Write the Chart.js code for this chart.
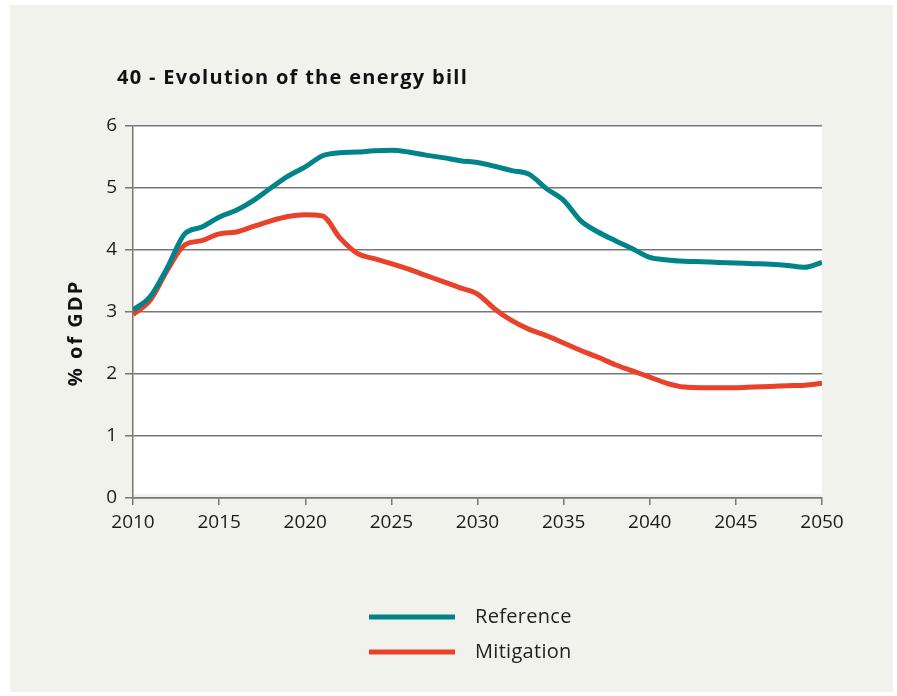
<!DOCTYPE html>
<html>
<head>
<meta charset="utf-8">
<title>Evolution of the energy bill</title>
<script src="https://cdn.jsdelivr.net/npm/chart.js@4.4.1/dist/chart.umd.min.js"></script>
<style>
  html, body { margin: 0; padding: 0; background: #ffffff; }
  #wrap { width: 897px; height: 696px; position: relative; }
</style>
</head>
<body>
<div id="wrap"><canvas id="bill"></canvas></div>
<script>
const TITLE = "40 - Evolution of the energy bill";
const Y_TITLE = "% of GDP";

const years = [];
for (let y = 2010; y <= 2050; y++) years.push(y);

// energy bill, % of GDP
const reference = [
    3.03, 3.25, 3.72, 4.26, 4.37, 4.53, 4.64, 4.80, 5.00, 5.19,
    5.34, 5.52, 5.57, 5.58, 5.60, 5.61, 5.58, 5.53, 5.49, 5.44,
    5.41, 5.35, 5.28, 5.22, 4.99, 4.80, 4.47, 4.29, 4.15, 4.02,
    3.88, 3.84, 3.82, 3.81, 3.80, 3.79, 3.78, 3.77, 3.75, 3.72,
    3.80,
];
const mitigation = [
    2.96, 3.19, 3.68, 4.08, 4.15, 4.26, 4.29, 4.38, 4.47, 4.54,
    4.57, 4.55, 4.20, 3.95, 3.86, 3.78, 3.69, 3.59, 3.49, 3.39,
    3.29, 3.05, 2.86, 2.72, 2.62, 2.50, 2.38, 2.27, 2.15, 2.05,
    1.95, 1.85, 1.79, 1.78, 1.78, 1.78, 1.79, 1.80, 1.81, 1.82,
    1.85,
];

const xTicks = [2010, 2015, 2020, 2025, 2030, 2035, 2040, 2045, 2050];
const yTicks = [0, 1, 2, 3, 4, 5, 6];

const SERIES = [
    { label: "Reference",  values: reference,  color: "#008489" },
    { label: "Mitigation", values: mitigation, color: "#e8432a" },
];

const FONT = "'Open Sans', 'DejaVu Sans', sans-serif";
const PANEL = "#f2f2ed";
const AXIS = "#777777";

// Panel, white plot box, heading, axis title and the stacked legend.
const decor = {
    id: "decor",
    beforeDraw(chart) {
        const { ctx, chartArea: a } = chart;
        ctx.save();
        ctx.fillStyle = "#ffffff";
        ctx.fillRect(0, 0, chart.width, chart.height);
        ctx.fillStyle = PANEL;
        ctx.fillRect(10, 5, 883, 687);
        ctx.fillStyle = "#ffffff";
        ctx.fillRect(a.left, a.top, a.right - a.left, a.bottom - a.top - 4);
        ctx.restore();
    },
    afterDraw(chart) {
        const { ctx, chartArea: a } = chart;
        ctx.save();
        ctx.fillStyle = "#111111";
        ctx.textBaseline = "alphabetic";
        ctx.textAlign = "left";
        ctx.font = "bold 20px " + FONT;
        ctx.letterSpacing = "1.3px";
        ctx.fillText(TITLE, 117, 84);

        ctx.translate(76, 333);
        ctx.rotate(-Math.PI / 2);
        ctx.textAlign = "center";
        ctx.textBaseline = "middle";
        ctx.font = "bold 20px " + FONT;
        ctx.letterSpacing = "2px";
        ctx.fillText(Y_TITLE, 0, 0);
        ctx.setTransform(1, 0, 0, 1, 0, 0);

        ctx.font = "20px " + FONT;
        ctx.letterSpacing = "0.3px";
        ctx.textAlign = "left";
        ctx.textBaseline = "middle";
        chart.data.datasets.forEach((ds, i) => {
            const y = 617 + i * 35;
            ctx.strokeStyle = ds.borderColor;
            ctx.lineWidth = 5;
            ctx.beginPath();
            ctx.moveTo(369, y);
            ctx.lineTo(455, y);
            ctx.stroke();
            ctx.fillStyle = "#222222";
            ctx.fillText(ds.label, 475, y);
        });
        ctx.restore();
    },
};

new Chart(document.getElementById("bill"), {
    type: "line",
    data: {
        labels: years,
        datasets: SERIES.map(s => ({
            label: s.label,
            data: years.map((yr, i) => ({ x: yr, y: s.values[i] })),
            borderColor: s.color,
            backgroundColor: s.color,
            borderWidth: 5,
            pointRadius: 0,
            cubicInterpolationMode: "monotone",
            fill: false,
        })),
    },
    options: {
        responsive: true,
        maintainAspectRatio: false,
        animation: false,
        layout: { padding: { top: 126, right: 75, left: 0, bottom: 0 } },
        plugins: {
            legend: { display: false },
            tooltip: { enabled: false },
        },
        scales: {
            x: {
                type: "linear",
                min: 2010, max: 2050,
                afterFit: s => { s.height = 198; },
                afterBuildTicks: s => { s.ticks = xTicks.map(v => ({ value: v })); },
                ticks: {
                    color: "#1a1a1a",
                    font: { family: FONT, size: 19 },
                    padding: 6,
                    maxRotation: 0,
                    callback: v => String(v),
                },
                grid: { drawOnChartArea: false, color: AXIS, lineWidth: 1.5, tickLength: 7 },
                border: { display: true, color: AXIS, width: 1.5 },
            },
            y: {
                min: 0, max: 6,
                afterFit: s => { s.width = 133; },
                afterBuildTicks: s => { s.ticks = yTicks.map(v => ({ value: v })); },
                ticks: {
                    color: "#1a1a1a",
                    font: { family: FONT, size: 19 },
                    padding: 8,
                },
                grid: { color: AXIS, lineWidth: 1.5, tickLength: 8 },
                border: { display: true, color: AXIS, width: 1.5 },
            },
        },
    },
    plugins: [decor],
});
</script>
</body>
</html>
